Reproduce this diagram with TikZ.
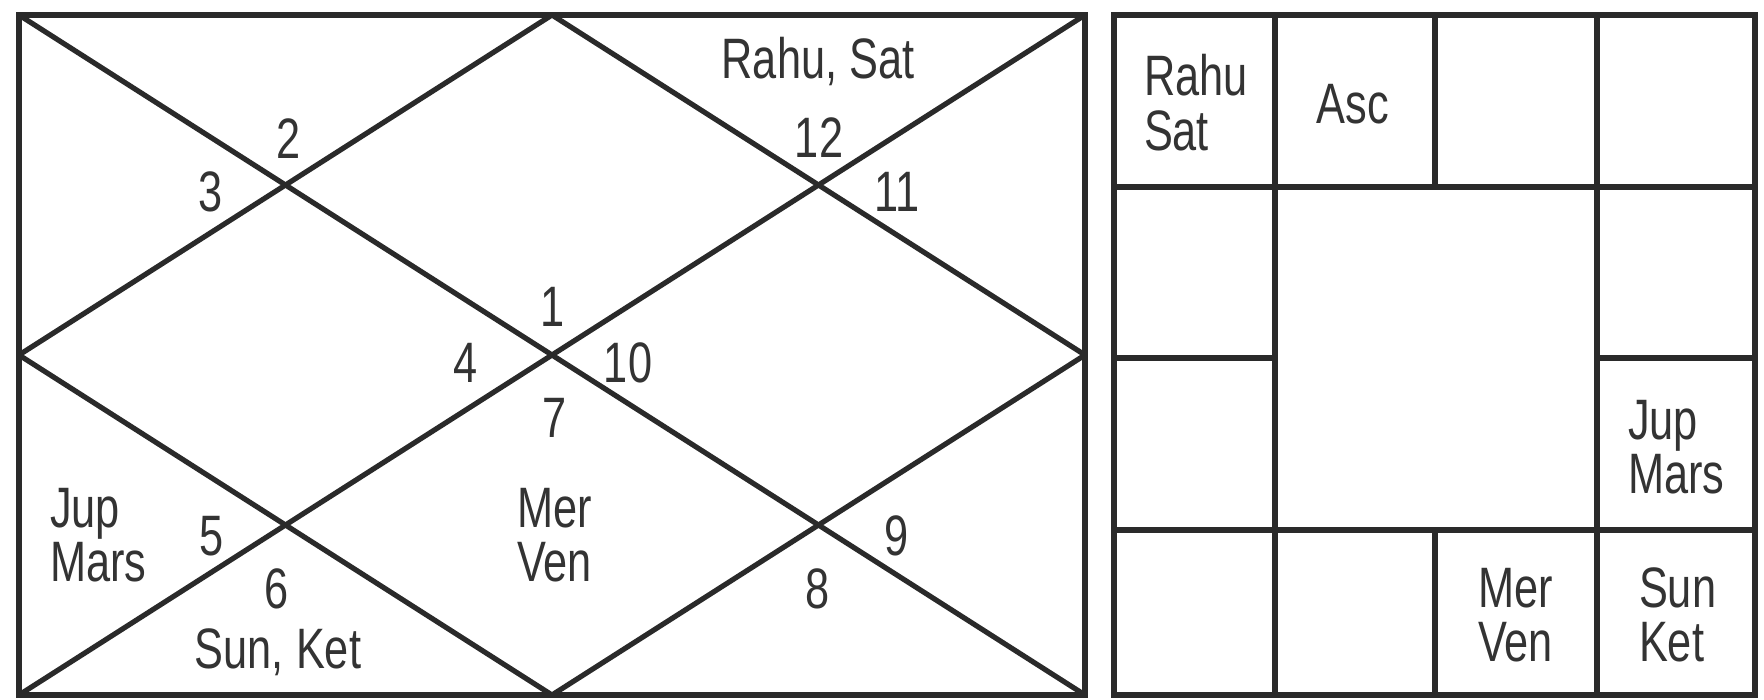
\documentclass[tikz,border=0pt]{standalone}
\usepackage{fontspec}
\newfontfamily\chartfont[FakeStretch=0.76]{Liberation Sans}
\definecolor{linecol}{HTML}{2A2A2A}
\definecolor{txtcol}{HTML}{333333}
\begin{document}
\begin{tikzpicture}[x=1pt,y=-1pt,
  grid/.style={draw=linecol, line width=5.2pt, line join=miter},
  lbl/.style={inner sep=0pt, outer sep=0pt, text=txtcol, font=\chartfont\fontsize{57}{53}\selectfont, anchor=base},
  lbll/.style={lbl, anchor=base west}]
\useasboundingbox (0,0) rectangle (1764,699);
% ---------- North Indian chart ----------
\begin{scope}
\clip (19,15) rectangle (1085,695);
\draw[grid] (19,15) -- (1085,695);
\draw[grid] (19,695) -- (1085,15);
\draw[grid] (552,15) -- (1085,355) -- (552,695) -- (19,355) -- cycle;
\end{scope}
\draw[grid] (19,15) rectangle (1085,695);
\node[lbl] (rs)  at (818,78)  {Rahu, Sat};
\node[lbl] (h12) at (819,157) {12};
\node[lbl] (h11) at (897,211) {11};
\node[lbl] (h2)  at (289,158) {2};
\node[lbl] (h3)  at (211,211) {3};
\node[lbl] (h1)  at (553,326) {1};
\node[lbl] (h4)  at (466,382) {4};
\node[lbl] (h10) at (628,382) {10};
\node[lbl] (h7)  at (555,437) {7};
\node[lbl] (h5)  at (212,555) {5};
\node[lbl] (h6)  at (277,608) {6};
\node[lbl] (h9)  at (897,555) {9};
\node[lbl] (h8)  at (818,608) {8};
\node[lbl] (sk)  at (278,668) {Sun, Ket};
\node[lbll] (jupL)  at (50,527)  {Jup};
\node[lbll] (marsL) at (50,581)  {Mars};
\node[lbll] (merL)  at (517,527) {Mer};
\node[lbll] (venL)  at (517,581) {Ven};
% ---------- South Indian chart ----------
\draw[grid] (1114,15) rectangle (1755,695);
\draw[grid] (1114,187) -- (1755,187);
\draw[grid] (1114,530) -- (1755,530);
\draw[grid] (1114,358) -- (1275,358);
\draw[grid] (1597,358) -- (1755,358);
\draw[grid] (1275,15) -- (1275,695);
\draw[grid] (1597,15) -- (1597,695);
\draw[grid] (1435,15) -- (1435,187);
\draw[grid] (1435,530) -- (1435,695);
\node[lbll] (rahuR) at (1144,95)  {Rahu};
\node[lbll] (satR)  at (1144,150) {Sat};
\node[lbl]  (asc)   at (1353,123) {Asc};
\node[lbll] (jupR)  at (1628,439) {Jup};
\node[lbll] (marsR) at (1628,493) {Mars};
\node[lbll] (merR)  at (1478,607) {Mer};
\node[lbll] (venR)  at (1478,661) {Ven};
\node[lbll] (sunR)  at (1639,607) {Sun};
\node[lbll] (ketR)  at (1639,661) {Ket};
\end{tikzpicture}
\end{document}
